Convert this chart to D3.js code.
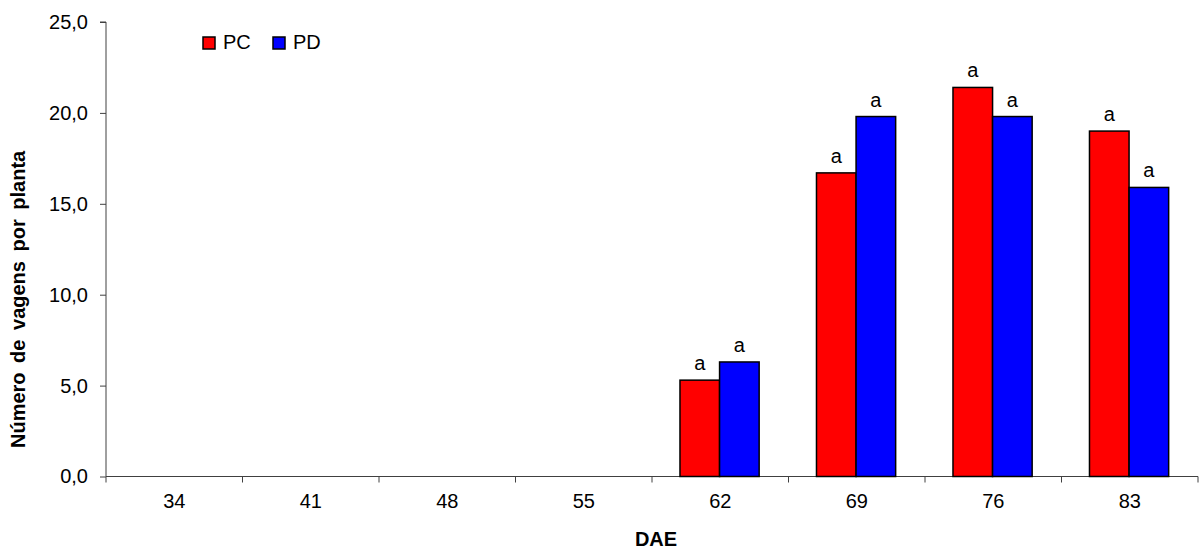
<!DOCTYPE html>
<html>
<head>
<meta charset="utf-8">
<script src="https://cdn.jsdelivr.net/npm/d3@7/dist/d3.min.js"></script>
<style>
html,body{margin:0;padding:0;background:#fff;}
svg{display:block;font-family:"Liberation Sans",Arial,sans-serif;}
</style>
</head>
<body>
<svg id="chart" width="1204" height="550"></svg>
<script>
const categories = ["34","41","48","55","62","69","76","83"];
const seriesNames = ["PC","PD"];
const pcValues = [null,null,null,null,5.3,16.7,21.4,19.0];
const pdValues = [null,null,null,null,6.3,19.8,19.8,15.9];
const pcLetters = ["","","","","a","a","a","a"];
const pdLetters = ["","","","","a","a","a","a"];
const yTicks = [0,5,10,15,20,25];
const colors = {PC:"#ff0000", PD:"#0000ff"};

const svg = d3.select("#chart");
const m = {left:106, right:1198, top:22, bottom:476.5};

const x0 = d3.scaleBand().domain(categories).range([m.left, m.right]).padding(0);
const x1 = d3.scaleBand().domain(seriesNames)
  .range([x0.bandwidth()*0.205, x0.bandwidth()*0.785]).padding(0);
const y = d3.scaleLinear().domain([0,25]).range([m.bottom, m.top]);
const fmt = v => d3.format(".1f")(v).replace(".", ",");

const axisColor = "#404040";

// Y axis
const yAxis = svg.append("g").attr("transform", `translate(${m.left},0)`)
  .call(d3.axisLeft(y).tickValues(yTicks).tickFormat(fmt).tickSize(6).tickPadding(12));
yAxis.select(".domain").attr("stroke", axisColor).attr("d", `M-6,${m.top}H0V${m.bottom}`);
yAxis.selectAll(".tick line").attr("stroke", axisColor);
yAxis.selectAll(".tick text").attr("font-size", 20).attr("fill", "#000");

// X axis
const xAxis = svg.append("g").attr("transform", `translate(0,${m.bottom})`)
  .call(d3.axisBottom(x0).tickSize(0).tickPadding(17.5));
xAxis.select(".domain").attr("stroke", axisColor).attr("d", `M${m.left},0H${m.right}`);
xAxis.selectAll(".tick text").attr("font-size", 20).attr("fill", "#000");
// Category boundary ticks
const bounds = categories.map(c => x0(c)).concat([m.right]);
xAxis.selectAll(".bound").data(bounds).enter().append("line")
  .attr("x1", d => d).attr("x2", d => d).attr("y1", 0).attr("y2", 6)
  .attr("stroke", axisColor);

// Bars
const rows = categories.map((c,i) => ({cat:c, vals:[
  {s:"PC", v:pcValues[i], l:pcLetters[i]},
  {s:"PD", v:pdValues[i], l:pdLetters[i]}]}));

const g = svg.append("g");
rows.forEach(r => {
  r.vals.filter(d => d.v !== null).forEach(d => {
    const bx = x0(r.cat) + x1(d.s);
    g.append("rect")
      .attr("x", bx).attr("y", y(d.v))
      .attr("width", x1.bandwidth()).attr("height", y(0) - y(d.v))
      .attr("fill", colors[d.s]).attr("stroke", "#000").attr("stroke-width", 1.5);
    g.append("text")
      .attr("x", bx + x1.bandwidth()/2).attr("y", y(d.v) - 10)
      .attr("text-anchor", "middle").attr("font-size", 20).text(d.l);
  });
});

// Legend
const legend = svg.append("g");
const legX = [203, 273];
seriesNames.forEach((s,i) => {
  legend.append("rect").attr("x", legX[i]).attr("y", 37).attr("width", 12).attr("height", 12)
    .attr("fill", colors[s]).attr("stroke", "#000").attr("stroke-width", 1.5);
  legend.append("text").attr("x", legX[i] + 20).attr("y", 49)
    .attr("font-size", 20).text(s);
});

// Axis titles
svg.append("text").attr("x", (m.left + m.right)/2 + 4).attr("y", 546)
  .attr("text-anchor", "middle").attr("font-size", 20).attr("font-weight", "bold").text("DAE");
svg.append("text").attr("transform", `translate(25,448) rotate(-90)`)
  .attr("text-anchor", "start").attr("font-size", 20).attr("font-weight", "bold")
  .attr("word-spacing", 4)
  .text("Número de vagens por planta");
</script>
</body>
</html>
